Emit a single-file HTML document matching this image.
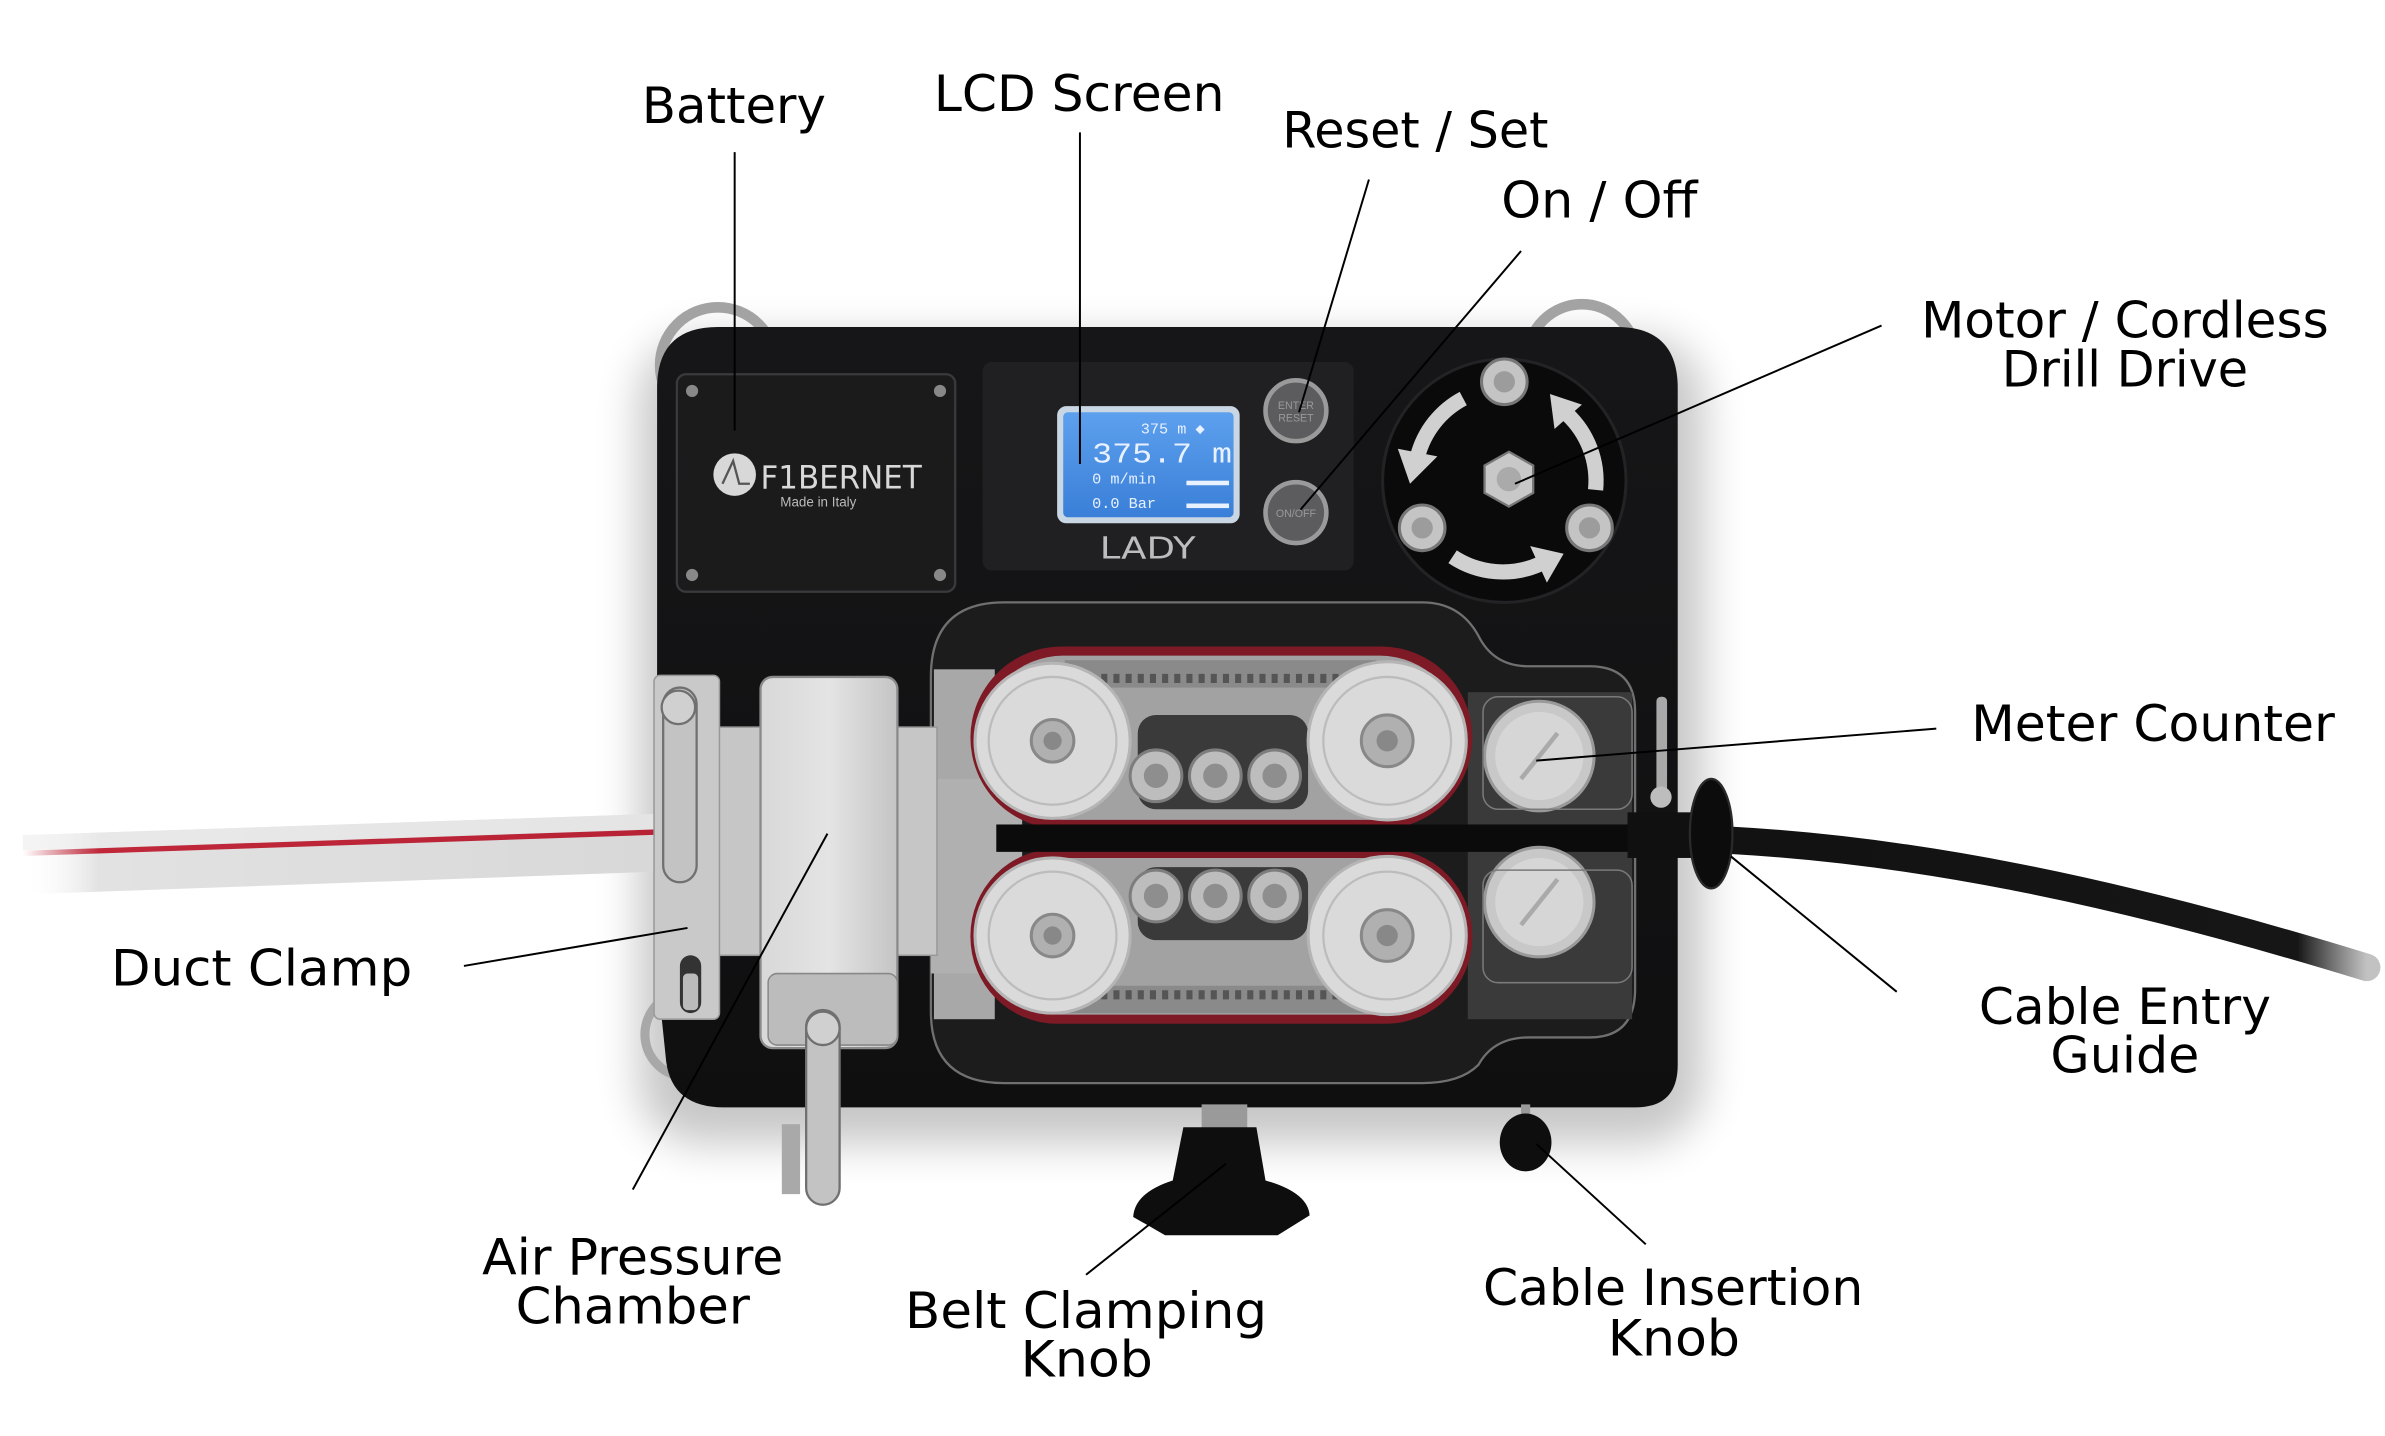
<!DOCTYPE html>
<html><head><meta charset="utf-8"><style>
html,body{margin:0;padding:0;background:#fff;}
svg{display:block;}
.lbl{font-family:"DejaVu Sans","Liberation Sans",sans-serif;font-size:33px;fill:#000;}
</style></head><body>
<svg width="2385" height="1436" viewBox="0 0 1568 944" preserveAspectRatio="none" xmlns="http://www.w3.org/2000/svg">
<defs>
<filter id="blur" x="-20%" y="-20%" width="140%" height="140%"><feGaussianBlur stdDeviation="14"/></filter>
<linearGradient id="silver" x1="0" y1="0" x2="1" y2="0"><stop offset="0" stop-color="#d8d8d8"/><stop offset="0.5" stop-color="#e4e4e4"/><stop offset="1" stop-color="#c4c4c4"/></linearGradient>
<linearGradient id="tube" x1="0" y1="0" x2="1" y2="0"><stop offset="0" stop-color="#fff" stop-opacity="0"/><stop offset="0.12" stop-color="#e2e2e2"/><stop offset="1" stop-color="#d8d8d8"/></linearGradient>
<linearGradient id="red" x1="0" y1="0" x2="1" y2="0"><stop offset="0" stop-color="#c0283a" stop-opacity="0"/><stop offset="0.12" stop-color="#c0283a"/><stop offset="1" stop-color="#b82235"/></linearGradient>
<linearGradient id="cable" x1="0" y1="0" x2="1" y2="0"><stop offset="0" stop-color="#111"/><stop offset="0.9" stop-color="#161616"/><stop offset="1" stop-color="#333" stop-opacity="0.3"/></linearGradient>
<linearGradient id="lcd" x1="0" y1="0" x2="0" y2="1"><stop offset="0" stop-color="#5da0ee"/><stop offset="1" stop-color="#3a7fd8"/></linearGradient>
<linearGradient id="body" x1="0" y1="0" x2="0" y2="1"><stop offset="0" stop-color="#161618"/><stop offset="1" stop-color="#0f0f10"/></linearGradient>
</defs>
<rect width="1568" height="944" fill="#fff"/>

<!-- shadow -->
<rect x="420" y="222" width="700" height="530" rx="40" fill="#000" opacity="0.22" filter="url(#blur)"/>

<!-- duct tube -->
<path d="M 15,549 L 432,535 L 432,573 L 15,588 Z" fill="url(#tube)"/>
<path d="M 15,549 L 432,535 L 432,545 L 15,559 Z" fill="#ececec" opacity="0.6"/>
<path d="M 15,561 L 432,547" stroke="url(#red)" stroke-width="3.5" fill="none"/>

<!-- cable right -->
<path d="M 1100,551 C 1250,554 1400,588 1556,636" stroke="url(#cable)" stroke-width="18" fill="none" stroke-linecap="round"/>

<!-- rings behind body -->
<circle cx="472" cy="240" r="38" fill="none" stroke="#a3a3a3" stroke-width="7"/>
<circle cx="1040" cy="236" r="36" fill="none" stroke="#a3a3a3" stroke-width="7"/>
<circle cx="452" cy="680" r="28" fill="none" stroke="#a8a8a8" stroke-width="6"/>

<!-- body -->
<path d="M 432,255 Q 432,215 472,215 L 1063,215 Q 1103,215 1103,255 L 1103,700 Q 1103,728 1075,728 L 476,728 Q 442,728 438,698 L 432,640 Z" fill="url(#body)"/>

<!-- battery panel -->
<rect x="445" y="246" width="183" height="143" rx="6" fill="#1b1b1c" stroke="#3a3a3c" stroke-width="1.5"/>
<circle cx="455" cy="257" r="4" fill="#888"/><circle cx="618" cy="257" r="4" fill="#888"/>
<circle cx="455" cy="378" r="4" fill="#888"/><circle cx="618" cy="378" r="4" fill="#888"/>
<circle cx="483" cy="312" r="14" fill="#d8d8d8"/>
<path d="M 475,318 L 482,303 L 486,318 L 493,318" stroke="#555" stroke-width="1.5" fill="none"/>
<text x="500" y="321" font-family="'DejaVu Sans','Liberation Sans',sans-serif" font-size="21" fill="#d8d8d8" textLength="106" lengthAdjust="spacingAndGlyphs">F1BERNET</text>
<text x="513" y="333" font-family="'Liberation Sans',sans-serif" font-size="9" fill="#bbb" textLength="50" lengthAdjust="spacingAndGlyphs">Made in Italy</text>

<!-- LCD panel -->
<rect x="646" y="238" width="244" height="137" rx="6" fill="#202022"/>
<rect x="695" y="267" width="120" height="77" rx="6" fill="#c9d6e4"/>
<rect x="699" y="271" width="112" height="69" rx="3" fill="url(#lcd)"/>
<g font-family="'Liberation Mono',monospace" fill="#e8f1ff">
<text x="750" y="285" font-size="10">375 m ◆</text>
<text x="718" y="304" font-size="19" textLength="92" lengthAdjust="spacingAndGlyphs">375.7 m</text>
<text x="718" y="318" font-size="10">0 m/min</text>
<text x="718" y="334" font-size="10">0.0 Bar</text>
</g>
<rect x="780" y="316" width="28" height="3" fill="#e8f1ff"/>
<rect x="780" y="331" width="28" height="3" fill="#e8f1ff"/>
<text x="723" y="367" font-family="'DejaVu Sans','Liberation Sans',sans-serif" font-size="20" fill="#bdbdbd" textLength="63" lengthAdjust="spacingAndGlyphs">LADY</text>

<!-- buttons -->
<circle cx="852" cy="270" r="20" fill="#5c5c5e" stroke="#9a9a9a" stroke-width="3"/>
<text x="852" y="269" font-family="'Liberation Sans',sans-serif" font-size="7" fill="#999" text-anchor="middle">ENTER</text>
<text x="852" y="277" font-family="'Liberation Sans',sans-serif" font-size="7" fill="#999" text-anchor="middle">RESET</text>
<circle cx="852" cy="337" r="20" fill="#5c5c5e" stroke="#9a9a9a" stroke-width="3"/>
<text x="852" y="340" font-family="'Liberation Sans',sans-serif" font-size="7" fill="#999" text-anchor="middle">ON/OFF</text>

<!-- drive disc -->
<circle cx="989" cy="316" r="80" fill="#0a0a0b" stroke="#232325" stroke-width="2"/>
<g stroke="#d0d0d0" stroke-width="10" fill="none">
<path d="M 962,262 A 60 60 0 0 0 932,300"/>
<path d="M 1049,322 A 60 60 0 0 0 1030,272"/>
<path d="M 955,366 A 60 60 0 0 0 1012,371"/>
</g>
<g fill="#d0d0d0">
<polygon points="927,318 945,300 919,295"/>
<polygon points="1019,259 1040,266 1022,282"/>
<polygon points="1028,364 1017,383 1006,359"/>
</g>
<g fill="#c4c4c4" stroke="#777" stroke-width="2">
<circle cx="989" cy="251" r="15"/><circle cx="935" cy="347" r="15"/><circle cx="1045" cy="347" r="15"/>
</g>
<g fill="#9c9c9c"><circle cx="989" cy="251" r="7"/><circle cx="935" cy="347" r="7"/><circle cx="1045" cy="347" r="7"/></g>
<polygon points="992,297 1008,306 1008,324 992,333 976,324 976,306" fill="#c8c8c8" stroke="#777" stroke-width="1.5"/>
<circle cx="992" cy="315" r="8" fill="#aaa"/>

<!-- belt housing -->
<path d="M 612,445 Q 612,396 660,396 L 935,396 Q 960,396 972,418 Q 982,438 1005,438 L 1045,438 Q 1075,438 1075,468 L 1075,650 Q 1075,682 1045,682 L 1005,682 Q 982,682 972,700 Q 960,712 935,712 L 660,712 Q 612,712 612,665 Z" fill="#1c1c1d" stroke="#707070" stroke-width="1.5"/>
<rect x="614" y="440" width="40" height="230" fill="#a8a8a8"/>
<polygon points="612,512 672,512 672,640 612,640" fill="#b0b0b0"/>
<rect x="965" y="455" width="108" height="215" fill="#3a3a3a"/>
<!-- top belt -->
<rect x="638" y="425" width="330" height="120" rx="60" fill="#7d1a25"/>
<rect x="645" y="431" width="316" height="108" rx="54" fill="#a2a2a2"/>
<rect x="700" y="434" width="205" height="18" fill="#8a8a8a"/>
<line x1="700" y1="446" x2="905" y2="446" stroke="#555" stroke-width="6" stroke-dasharray="4 4"/>
<rect x="748" y="470" width="112" height="62" rx="12" fill="#3a3a3a"/>
<!-- bottom belt -->
<rect x="638" y="558" width="330" height="115" rx="57" fill="#7d1a25"/>
<rect x="645" y="564" width="316" height="103" rx="51" fill="#a2a2a2"/>
<rect x="700" y="648" width="205" height="18" fill="#8a8a8a"/>
<line x1="700" y1="654" x2="905" y2="654" stroke="#555" stroke-width="6" stroke-dasharray="4 4"/>
<rect x="748" y="570" width="112" height="48" rx="12" fill="#3a3a3a"/>
<!-- cable through middle -->
<rect x="655" y="542" width="457" height="18" fill="#0b0b0b"/>
<!-- pulleys -->
<g fill="#dadada" stroke="#b5b5b5" stroke-width="2">
<circle cx="692" cy="487" r="51"/><circle cx="912" cy="487" r="52"/>
<circle cx="692" cy="615" r="51"/><circle cx="912" cy="615" r="52"/>
</g>
<g fill="none" stroke="#bcbcbc" stroke-width="1.5">
<circle cx="692" cy="487" r="42"/><circle cx="912" cy="487" r="42"/>
<circle cx="692" cy="615" r="42"/><circle cx="912" cy="615" r="42"/>
</g>
<g fill="#b0b0b0" stroke="#888" stroke-width="2">
<circle cx="692" cy="487" r="14"/><circle cx="912" cy="487" r="17"/>
<circle cx="692" cy="615" r="14"/><circle cx="912" cy="615" r="17"/>
</g>
<g fill="#888"><circle cx="692" cy="487" r="6"/><circle cx="912" cy="487" r="7"/><circle cx="692" cy="615" r="6"/><circle cx="912" cy="615" r="7"/></g>
<!-- rollers -->
<g fill="#bdbdbd" stroke="#7d7d7d" stroke-width="2">
<circle cx="760" cy="510" r="17"/><circle cx="799" cy="510" r="17"/><circle cx="838" cy="510" r="17"/>
<circle cx="760" cy="589" r="17"/><circle cx="799" cy="589" r="17"/><circle cx="838" cy="589" r="17"/>
</g>
<g fill="#8e8e8e"><circle cx="760" cy="510" r="8"/><circle cx="799" cy="510" r="8"/><circle cx="838" cy="510" r="8"/>
<circle cx="760" cy="589" r="8"/><circle cx="799" cy="589" r="8"/><circle cx="838" cy="589" r="8"/></g>
<!-- meter wheels -->
<g fill="#c8c8c8" stroke="#999" stroke-width="2"><circle cx="1012" cy="497" r="36"/><circle cx="1012" cy="593" r="36"/></g>
<g fill="#d6d6d6"><circle cx="1012" cy="497" r="29"/><circle cx="1012" cy="593" r="29"/></g>
<line x1="1000" y1="512" x2="1024" y2="482" stroke="#aaa" stroke-width="3"/>
<line x1="1000" y1="608" x2="1024" y2="578" stroke="#aaa" stroke-width="3"/>
<rect x="975" y="458" width="98" height="74" rx="10" fill="none" stroke="#7a7a7a" stroke-width="1"/>
<rect x="975" y="572" width="98" height="74" rx="10" fill="none" stroke="#7a7a7a" stroke-width="1"/>

<!-- cable entry guide -->
<rect x="1070" y="534" width="52" height="30" fill="#101010"/>
<ellipse cx="1125" cy="548" rx="14" ry="36" fill="#0c0c0c" stroke="#2a2a2a" stroke-width="1.5"/>
<rect x="1089" y="458" width="7" height="70" rx="3" fill="#a9a9a9"/>
<circle cx="1092" cy="524" r="7" fill="#bdbdbd"/>

<!-- duct clamp / air chamber -->
<rect x="470" y="478" width="146" height="150" fill="#c6c6c6" stroke="#999" stroke-width="1"/>
<rect x="430" y="444" width="43" height="226" rx="4" fill="#c9c9c9" stroke="#999" stroke-width="1"/>
<rect x="447" y="628" width="14" height="38" rx="7" fill="#333"/>
<rect x="449" y="640" width="10" height="24" rx="3" fill="#bbb"/>
<rect x="500" y="445" width="90" height="244" rx="8" fill="url(#silver)" stroke="#8a8a8a" stroke-width="1.5"/>
<rect x="505" y="640" width="85" height="47" rx="6" fill="#bcbcbc" stroke="#888" stroke-width="1"/>
<rect x="436" y="452" width="22" height="128" rx="11" fill="#c3c3c3" stroke="#707070" stroke-width="1.5"/>
<circle cx="446" cy="465" r="11" fill="#d0d0d0" stroke="#707070" stroke-width="1.5"/>
<rect x="514" y="739" width="12" height="46" fill="#a9a9a9"/>
<rect x="530" y="664" width="22" height="128" rx="11" fill="#c3c3c3" stroke="#707070" stroke-width="1.5"/>
<circle cx="541" cy="676" r="11" fill="#d0d0d0" stroke="#707070" stroke-width="1.5"/>

<!-- knobs -->
<rect x="790" y="726" width="30" height="16" fill="#9a9a9a"/>
<path d="M 778,741 L 826,741 L 832,776 Q 860,784 861,799 L 840,812 L 766,812 L 745,800 Q 746,784 771,776 Z" fill="#0e0e0e"/>
<rect x="1000" y="726" width="6" height="12" fill="#999"/>
<ellipse cx="1003" cy="751" rx="17" ry="19" fill="#0e0e0e"/>

<!-- leader lines -->
<g stroke="#000" stroke-width="1.3" fill="none">
<line x1="483" y1="100" x2="483" y2="283"/>
<line x1="710" y1="87" x2="710" y2="305"/>
<line x1="900" y1="118" x2="854" y2="271"/>
<line x1="1000" y1="165" x2="855" y2="335"/>
<line x1="1237" y1="214" x2="996" y2="318"/>
<line x1="1273" y1="479" x2="1010" y2="500"/>
<line x1="1247" y1="652" x2="1138" y2="563"/>
<line x1="305" y1="635" x2="452" y2="610"/>
<line x1="416" y1="782" x2="544" y2="548"/>
<line x1="714" y1="838" x2="806" y2="765"/>
<line x1="1082" y1="818" x2="1010" y2="752"/>
</g>

<!-- labels -->
<text class="lbl" x="422" y="81" textLength="121" lengthAdjust="spacingAndGlyphs">Battery</text>
<text class="lbl" x="614" y="73" textLength="191" lengthAdjust="spacingAndGlyphs">LCD Screen</text>
<text class="lbl" x="843" y="97" textLength="175" lengthAdjust="spacingAndGlyphs">Reset / Set</text>
<text class="lbl" x="987" y="143" textLength="129" lengthAdjust="spacingAndGlyphs">On / Off</text>
<text class="lbl" x="1263" y="222" textLength="268" lengthAdjust="spacingAndGlyphs">Motor / Cordless</text>
<text class="lbl" x="1316" y="254" textLength="162" lengthAdjust="spacingAndGlyphs">Drill Drive</text>
<text class="lbl" x="1296" y="487" textLength="239" lengthAdjust="spacingAndGlyphs">Meter Counter</text>
<text class="lbl" x="73" y="648" textLength="198" lengthAdjust="spacingAndGlyphs">Duct Clamp</text>
<text class="lbl" x="1301" y="673" textLength="192" lengthAdjust="spacingAndGlyphs">Cable Entry</text>
<text class="lbl" x="1348" y="705" textLength="98" lengthAdjust="spacingAndGlyphs">Guide</text>
<text class="lbl" x="317" y="838" textLength="198" lengthAdjust="spacingAndGlyphs">Air Pressure</text>
<text class="lbl" x="339" y="870" textLength="154" lengthAdjust="spacingAndGlyphs">Chamber</text>
<text class="lbl" x="595" y="873" textLength="238" lengthAdjust="spacingAndGlyphs">Belt Clamping</text>
<text class="lbl" x="671" y="905" textLength="87" lengthAdjust="spacingAndGlyphs">Knob</text>
<text class="lbl" x="975" y="858" textLength="250" lengthAdjust="spacingAndGlyphs">Cable Insertion</text>
<text class="lbl" x="1057" y="891" textLength="87" lengthAdjust="spacingAndGlyphs">Knob</text>
</svg>
</body></html>
